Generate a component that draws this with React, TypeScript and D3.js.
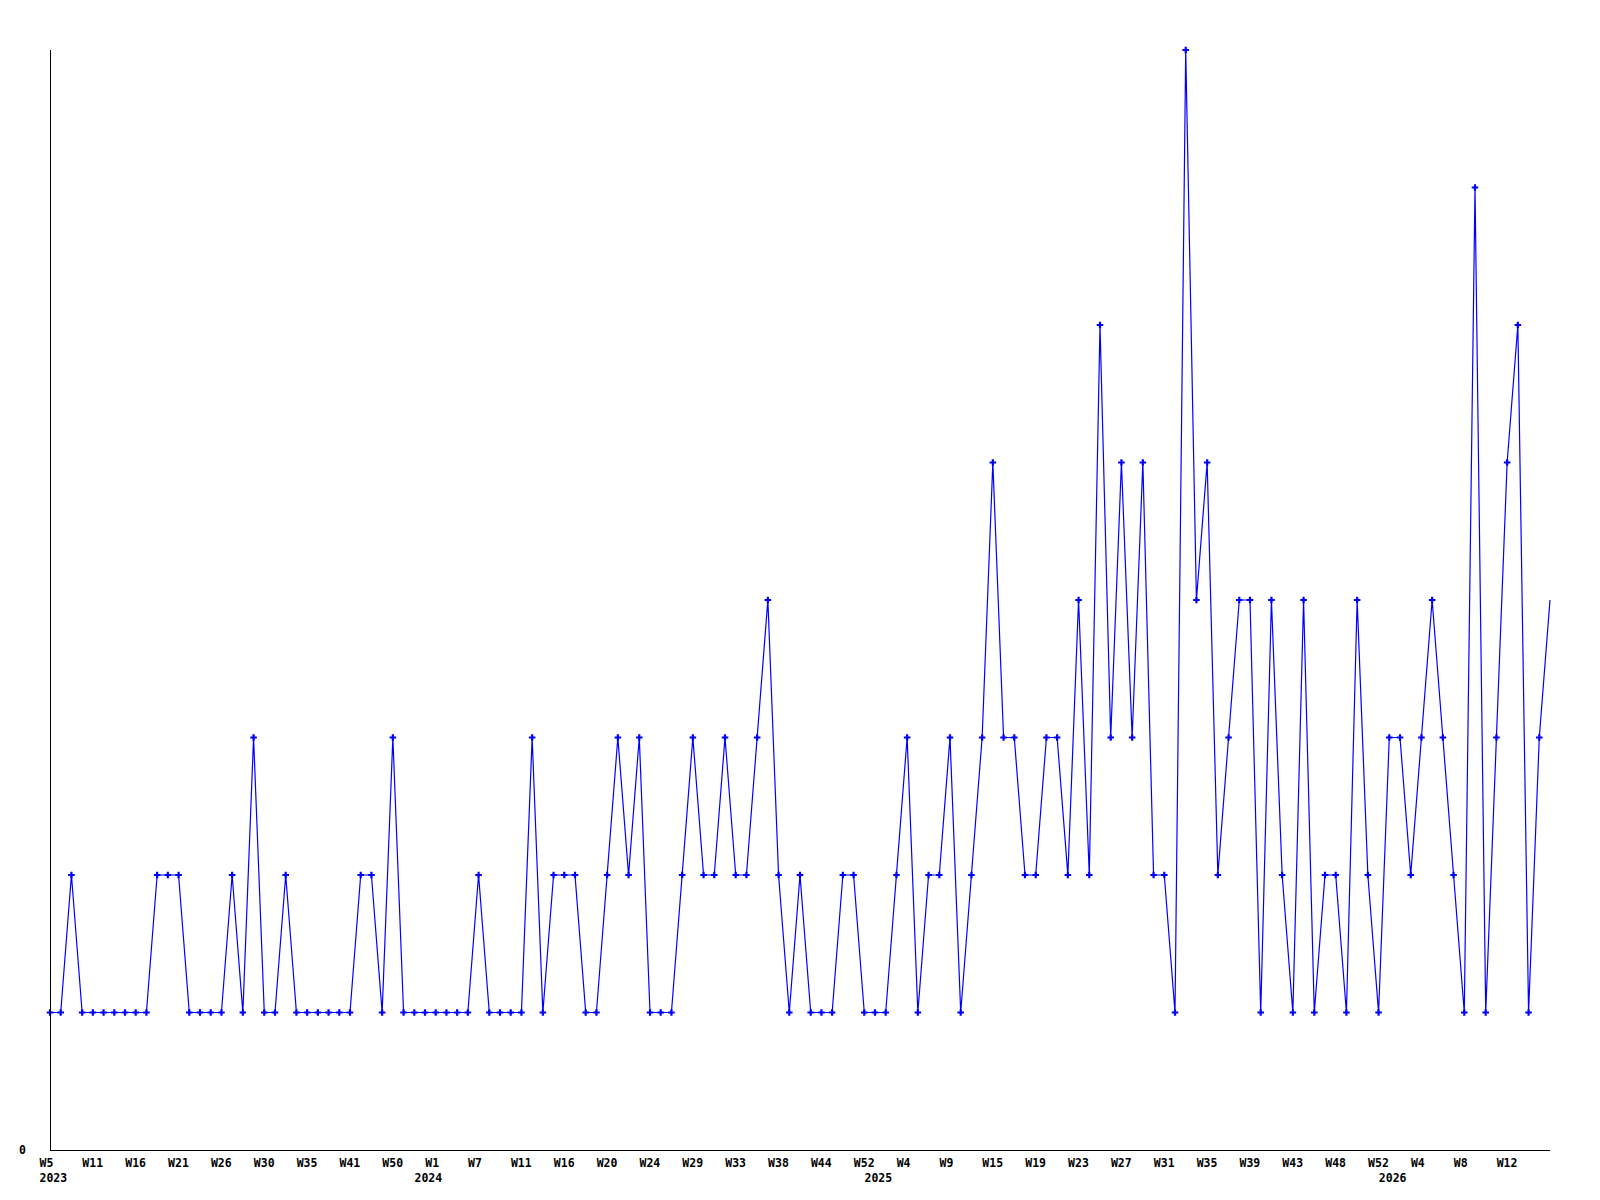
import React from "react";
import * as d3 from "d3";

// weekly counts (only weeks with data are plotted, as categories)
const values: number[] = [
  1, 1, 2, 1, 1, 1, 1, 1, 1, 1, 2, 2, 2, 1, 1, 1, 1, 2, 1, 3,
  1, 1, 2, 1, 1, 1, 1, 1, 1, 2, 2, 1, 3, 1, 1, 1, 1, 1, 1, 1,
  2, 1, 1, 1, 1, 3, 1, 2, 2, 2, 1, 1, 2, 3, 2, 3, 1, 1, 1, 2,
  3, 2, 2, 3, 2, 2, 3, 4, 2, 1, 2, 1, 1, 1, 2, 2, 1, 1, 1, 2,
  3, 1, 2, 2, 3, 1, 2, 3, 5, 3, 3, 2, 2, 3, 3, 2, 4, 2, 6, 3,
  5, 3, 5, 2, 2, 1, 8, 4, 5, 2, 3, 4, 4, 1, 4, 2, 1, 4, 1, 2,
  2, 1, 4, 2, 1, 3, 3, 2, 3, 4, 3, 2, 1, 7, 1, 3, 5, 6, 1, 3,
  4,
];

// week tick labels, one for every 4th category
const weekLabels: string[] = [
  "W5", "W11", "W16", "W21", "W26", "W30", "W35", "W41", "W50", "W1",
  "W7", "W11", "W16", "W20", "W24", "W29", "W33", "W38", "W44", "W52",
  "W4", "W9", "W15", "W19", "W23", "W27", "W31", "W35", "W39", "W43",
  "W48", "W52", "W4", "W8", "W12",
];
const weekLabelStep = 4;

const yearLabels: string[] = ["2023", "2024", "2025", "2026"];
const yearIndex: number[] = [0, 35, 77, 125];

const yTickLabels: number[] = [0];

export default function App() {
  const W = 1600;
  const H = 1200;
  const left = 50;
  const right = 1550;
  const top = 50;
  const bottom = 1150;

  const x = d3.scaleLinear().domain([0, values.length - 1]).range([left, right]);
  const y = d3.scaleLinear().domain([0, 8]).range([bottom, top]);

  const line = d3
    .line<number>()
    .x((_, i) => x(i))
    .y((d) => y(d));

  const marker = d3.symbol().type(d3.symbolCross).size(24)() as string;

  const font = "'DejaVu Sans Mono', monospace";

  return (
    <svg
      width={W}
      height={H}
      style={{ position: "absolute", left: 0, top: 0, background: "#fff" }}
    >
      <rect x={0} y={0} width={W} height={H} fill="#fff" />
      <path
        d={line(values) as string}
        fill="none"
        stroke="#0000ff"
        strokeWidth={1.2}
      />
      {values.slice(0, values.length - 1).map((v, i) => (
        <path
          key={i}
          d={marker}
          transform={`translate(${x(i)},${y(v)})`}
          fill="#0000ff"
        />
      ))}
      <line
        x1={left + 0.5}
        x2={left + 0.5}
        y1={top}
        y2={bottom}
        stroke="#000"
        strokeWidth={1}
        shapeRendering="crispEdges"
      />
      <line
        x1={left}
        x2={right}
        y1={bottom + 0.5}
        y2={bottom + 0.5}
        stroke="#000"
        strokeWidth={1}
        shapeRendering="crispEdges"
      />
      {yTickLabels.map((t) => (
        <text
          key={t}
          x={19}
          y={y(t) + 4}
          fontFamily={font}
          fontWeight="bold"
          fontSize={11.5}
          fill="#000"
        >
          {t}
        </text>
      ))}
      {weekLabels.map((lab, k) => (
        <text
          key={k}
          x={x(k * weekLabelStep) - 10.5}
          y={bottom + 17}
          fontFamily={font}
          fontWeight="bold"
          fontSize={11.5}
          fill="#000"
        >
          {lab}
        </text>
      ))}
      {yearLabels.map((lab, k) => (
        <text
          key={lab}
          x={x(yearIndex[k]) - 10.5}
          y={bottom + 32}
          fontFamily={font}
          fontWeight="bold"
          fontSize={11.5}
          fill="#000"
        >
          {lab}
        </text>
      ))}
    </svg>
  );
}
